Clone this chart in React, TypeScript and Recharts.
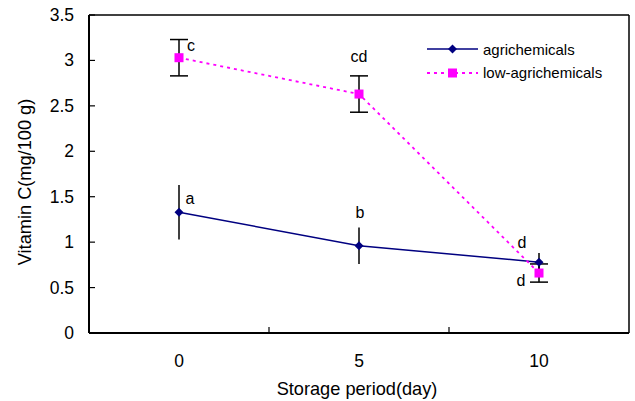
import React from 'react'
import { LineChart, Line, XAxis, YAxis, ErrorBar, LabelList, ReferenceLine } from 'recharts'

// storage days and measured vitamin C (mg/100 g)
const days = [0, 5, 10]
const agrichemicals = [1.33, 0.96, 0.78]
const agrichemicalsErr = [0.3, 0.2, 0.1]
const agrichemicalsLetters = ['a', 'b', 'd']
const lowAgrichemicals = [3.03, 2.63, 0.66]
const lowAgrichemicalsErr = [0.2, 0.2, 0.1]
const lowAgrichemicalsLetters = ['c', 'cd', 'd']

const yTicks = [0, 0.5, 1, 1.5, 2, 2.5, 3, 3.5]
const xLabelTicks = [0, 5, 10]
const xMarkTicks = [2.5, 7.5]

const FONT = '"Liberation Sans", Arial, sans-serif'
const NAVY = '#000080'
const MAGENTA = '#FF00FF'

const data = days.map((d, i) => ({
  day: d,
  agri: agrichemicals[i],
  agriErr: agrichemicalsErr[i],
  agriLetter: agrichemicalsLetters[i],
  low: lowAgrichemicals[i],
  lowErr: lowAgrichemicalsErr[i],
  lowLetter: lowAgrichemicalsLetters[i],
}))

// where each significance letter sits relative to its point
const agriLetterOffset = [
  { dx: 11, dy: -14 },
  { dx: 1, dy: -34 },
  { dx: -17, dy: -20 },
]
const lowLetterOffset = [
  { dx: 12, dy: -13 },
  { dx: 0, dy: -38 },
  { dx: -18, dy: 7 },
]

const makeLetter = (offsets: any[]) => (props: any) => {
  const { x, y, index, value } = props
  const o = offsets[index] || { dx: 0, dy: 0 }
  return (
    <text x={x + o.dx} y={y + o.dy} dy={6} textAnchor="middle" fontSize={16} fontFamily={FONT} fill="#000">
      {value}
    </text>
  )
}

const Diamond = (props: any) => {
  const { cx, cy, index } = props
  if (cx == null || cy == null) return null
  const s = 4.5
  return <polygon key={`d${index}`} points={`${cx},${cy - s} ${cx + s},${cy} ${cx},${cy + s} ${cx - s},${cy}`} fill={NAVY} />
}

const Square = (props: any) => {
  const { cx, cy, index } = props
  if (cx == null || cy == null) return null
  return <rect key={`s${index}`} x={cx - 4.5} y={cy - 4.5} width={9} height={9} fill={MAGENTA} />
}

const YTick = (props: any) => {
  const { x, y, payload } = props
  return (
    <g>
      <line x1={x + 15} x2={x + 21} y1={y} y2={y} stroke="#000" strokeWidth={1.2} />
      <text x={x} y={y} dy={6} textAnchor="end" fontSize={17.5} fontFamily={FONT} fill="#000">
        {payload.value}
      </text>
    </g>
  )
}

const XTick = (props: any) => {
  const { x, y, payload } = props
  if (xMarkTicks.includes(payload.value)) {
    return <line x1={x} x2={x} y1={y} y2={y - 6} stroke="#000" strokeWidth={1.2} />
  }
  if (!xLabelTicks.includes(payload.value)) return null
  return (
    <text x={x} y={y + 34} textAnchor="middle" fontSize={17.5} fontFamily={FONT} fill="#000">
      {payload.value}
    </text>
  )
}

const legendItems = [
  { name: 'agrichemicals', color: NAVY, dash: undefined, marker: 'diamond' },
  { name: 'low-agrichemicals', color: MAGENTA, dash: '3 4', marker: 'square' },
]

function ChartLegend() {
  return (
    <div style={{ position: 'absolute', left: 427, top: 37.6, fontFamily: FONT, fontSize: 15, color: '#000' }}>
      {legendItems.map(item => (
        <div key={item.name} style={{ display: 'flex', alignItems: 'center', height: 23.4 }}>
          <svg width={51} height={12} style={{ display: 'block' }}>
            <line x1={0} x2={51} y1={6} y2={6} stroke={item.color} strokeWidth={item.dash ? 2 : 1.5} strokeDasharray={item.dash} />
            {item.marker === 'diamond'
              ? <polygon points="25.5,1.5 30,6 25.5,10.5 21,6" fill={item.color} />
              : <rect x={21} y={1.5} width={9} height={9} fill={item.color} />}
          </svg>
          <span style={{ marginLeft: 5, whiteSpace: 'nowrap' }}>{item.name}</span>
        </div>
      ))}
    </div>
  )
}

export default function App() {
  return (
    <div style={{ position: 'absolute', left: 0, top: 0, width: 635, height: 401, background: '#fff' }}>
      <LineChart width={635} height={401} data={data} margin={{ top: 15, right: 6, left: 0, bottom: 0 }}>
        <XAxis
          dataKey="day"
          type="number"
          domain={[-2.5, 12.5]}
          ticks={[0, 2.5, 5, 7.5, 10]}
          interval={0}
          height={68}
          tickLine={false}
          tickSize={0}
          tickMargin={0}
          tick={<XTick />}
          axisLine={{ stroke: '#000', strokeWidth: 2 }}
          label={{
            content: () => (
              <text x={357} y={395} textAnchor="middle" fontSize={18.2} fontFamily={FONT} fill="#000">
                Storage period(day)
              </text>
            ),
          }}
        />
        <YAxis
          type="number"
          domain={[0, 3.5]}
          ticks={yTicks}
          interval={0}
          width={89}
          tickLine={false}
          tickSize={0}
          tickMargin={15}
          tick={<YTick />}
          axisLine={{ stroke: '#000', strokeWidth: 2 }}
          label={{
            content: () => (
              <text
                x={25}
                y={182}
                transform="rotate(-90, 25, 182)"
                textAnchor="middle"
                dominantBaseline="central"
                fontSize={18.2}
                fontFamily={FONT}
                fill="#000"
              >
                Vitamin C(mg/100 g)
              </text>
            ),
          }}
        />
        <ReferenceLine y={3.5} stroke="#000" strokeWidth={1.5} />
        <ReferenceLine x={12.5} stroke="#000" strokeWidth={1.5} />
        <Line
          dataKey="agri"
          name="agrichemicals"
          stroke={NAVY}
          strokeWidth={1.5}
          dot={<Diamond />}
          activeDot={false}
          isAnimationActive={false}
        >
          <ErrorBar dataKey="agriErr" direction="y" width={0} stroke="#000" strokeWidth={1.5} />
          <LabelList dataKey="agriLetter" content={makeLetter(agriLetterOffset)} />
        </Line>
        <Line
          dataKey="low"
          name="low-agrichemicals"
          stroke={MAGENTA}
          strokeWidth={1.8}
          strokeDasharray="3 4"
          dot={<Square />}
          activeDot={false}
          isAnimationActive={false}
        >
          <ErrorBar dataKey="lowErr" direction="y" width={9} stroke="#000" strokeWidth={1.5} />
          <LabelList dataKey="lowLetter" content={makeLetter(lowLetterOffset)} />
        </Line>
      </LineChart>
      <ChartLegend />
    </div>
  )
}
